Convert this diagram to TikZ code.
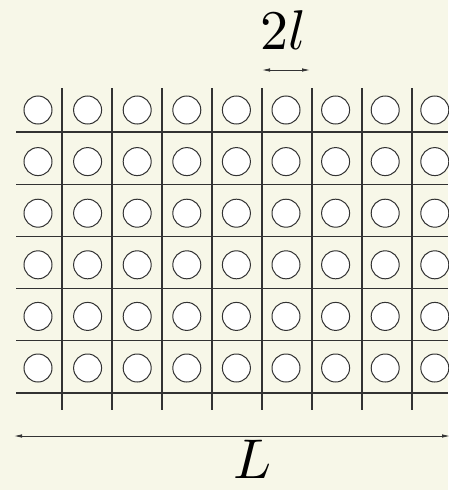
\documentclass[tikz,border=0pt]{standalone}
\usepackage{tikz}
\usetikzlibrary{arrows.meta}
\definecolor{cream}{RGB}{247,247,232}
\definecolor{gridgray}{RGB}{50,50,50}
\tikzstyle{gridline} = [draw=gridgray, line width=1.1pt]
\tikzstyle{hole} = [draw=gridgray, fill=white, line width=1pt]
\tikzstyle{dimline} = [draw=black!80, line width=0.8pt, {Latex[length=8pt,width=3.5pt]}-{Latex[length=8pt,width=3.5pt]}]
\tikzstyle{biglabel} = [scale=5.6, inner sep=0pt]

\begin{document}
\begin{tikzpicture}[x=1pt, y=-1pt]
\fill[cream] (0,0) rectangle (448,490);
\useasboundingbox (0,0) rectangle (448,490);
% grid
\foreach \i in {0,...,7}
  \path [gridline] (62+50*\i,88) -- (62+50*\i,410);
\foreach \j in {0,...,5}
  \path [gridline] (16,132+52.2*\j) -- (448,132+52.2*\j);
% holes
\foreach \i in {0,...,8}
  \foreach \j in {0,...,5}
    \path [hole] (38+49.6*\i,110+51.6*\j) circle (14);
% dimensions
\coordinate (cellL) at (262,70);
\coordinate (cellR) at (310,70);
\path [dimline] (cellL) -- (cellR);
\node [biglabel] (cellw) at (283,30) {$2l$};
\coordinate (boxL) at (14,436);
\coordinate (boxR) at (450,436);
\path [dimline] (boxL) -- (boxR);
\node [biglabel] (boxw) at (253,459) {$L$};
\end{tikzpicture}
\end{document}
